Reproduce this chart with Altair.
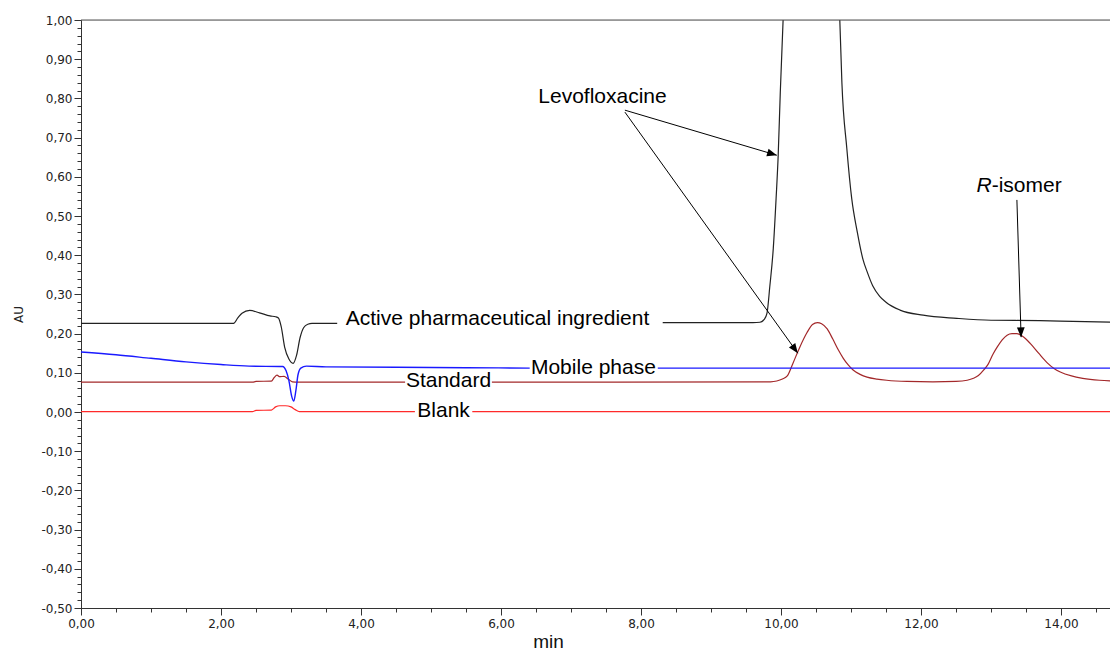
import math
import altair as alt
import pandas as pd

# ---------------- data ----------------
# Active pharmaceutical ingredient (black)
api_t = [0.00, 2.18, 2.24, 2.30, 2.41, 2.55, 2.70, 2.78, 2.82, 2.86, 2.91, 2.97, 3.03, 3.08, 3.13, 3.18, 3.24, 3.30, 3.66,
         8.31, 9.60, 9.70, 9.76, 9.80, 9.84, 9.89, 9.93, 9.96, 9.99, 10.03,
         10.84, 10.87, 10.94, 11.01, 11.09, 11.17, 11.23, 11.31, 11.41, 11.50, 11.70, 12.03, 12.51, 13.00, 13.70, 14.17, 14.81]
api_au = [0.226, 0.226, 0.240, 0.252, 0.259, 0.253, 0.245, 0.243, 0.240, 0.218, 0.165, 0.135, 0.124, 0.145, 0.190, 0.215, 0.224, 0.226, 0.226,
          0.228, 0.228, 0.229, 0.236, 0.252, 0.320, 0.418, 0.545, 0.655, 0.816, 1.000,
          1.000, 0.840, 0.673, 0.545, 0.459, 0.390, 0.358, 0.322, 0.295, 0.280, 0.260, 0.247, 0.239, 0.234, 0.233, 0.231, 0.229]
api_seg = [0] * 19 + [1] * 11 + [2] * 17

# Mobile phase (blue)
mob_t = [0.00, 0.50, 1.00, 1.50, 2.00, 2.40, 2.88, 2.93, 2.97, 3.01, 3.04, 3.07, 3.10, 3.14, 3.22, 3.50, 4.50, 5.50, 6.41,
         8.24, 10.00, 12.00, 14.81]
mob_au = [0.153, 0.146, 0.137, 0.128, 0.121, 0.117, 0.116, 0.105, 0.080, 0.040, 0.028, 0.055, 0.095, 0.112, 0.117, 0.115, 0.114, 0.113, 0.112,
          0.112, 0.112, 0.112, 0.112]
mob_seg = [0] * 19 + [1] * 4

# Standard (dark red)
std_t = [0.00, 2.45, 2.50, 2.72, 2.76, 2.80, 2.84, 2.90, 2.96, 3.02, 3.10, 4.63,
         5.87, 9.85, 9.94, 10.02, 10.09, 10.17, 10.27, 10.37, 10.45, 10.52, 10.58, 10.66, 10.74, 10.82, 10.89, 10.96,
         11.03, 11.13, 11.23, 11.37, 11.51, 11.80, 12.17, 12.50, 12.66, 12.75, 12.82, 12.90, 12.96, 13.03, 13.09, 13.16,
         13.23, 13.30, 13.37, 13.45, 13.56, 13.68, 13.80, 13.90, 13.99, 14.15, 14.31, 14.55, 14.81]
std_au = [0.076, 0.076, 0.078, 0.079, 0.088, 0.094, 0.090, 0.091, 0.084, 0.077, 0.076, 0.076,
          0.076, 0.077, 0.079, 0.084, 0.092, 0.124, 0.166, 0.202, 0.223, 0.228, 0.225, 0.212, 0.186, 0.158, 0.137, 0.120,
          0.107, 0.096, 0.089, 0.084, 0.081, 0.078, 0.077, 0.078, 0.081, 0.086, 0.093, 0.108, 0.122, 0.148, 0.166, 0.184,
          0.196, 0.200, 0.200, 0.193, 0.175, 0.150, 0.126, 0.111, 0.102, 0.092, 0.086, 0.081, 0.079]
std_seg = [0] * 12 + [1] * 45

# Blank (bright red)
blk_t = [0.00, 2.45, 2.50, 2.72, 2.78, 2.84, 2.92, 3.00, 3.06, 3.12, 4.77, 5.59, 14.81]
blk_au = [0.001, 0.001, 0.004, 0.005, 0.013, 0.016, 0.016, 0.013, 0.006, 0.001, 0.001, 0.001, 0.001]
blk_seg = [0] * 11 + [1] * 2

# Annotation labels
lab_text = ["Active pharmaceutical ingredient", "Levofloxacine", "Mobile phase", "Standard", "Blank"]
lab_t = [5.95, 7.45, 7.32, 5.25, 5.18]
lab_au = [0.221, 0.788, 0.098, 0.064, -0.0125]
iso_t = 13.01
iso_au = 0.561

# Arrows (start -> tip)
arr_t = [7.77, 7.77, 13.37]
arr_au = [0.770, 0.765, 0.541]
arr_t2 = [9.94, 10.24, 13.43]
arr_au2 = [0.655, 0.150, 0.191]

x_major = [0, 2, 4, 6, 8, 10, 12, 14]
x_minor = [round(0.5 * k, 2) for k in range(0, 30)]
y_major = [round(-0.5 + 0.1 * k, 2) for k in range(0, 16)]
y_minor = [round(-0.5 + 0.02 * k, 2) for k in range(0, 76)]

# ---------------- layout ----------------
W, H = 1029, 588
X_MAX = W / 70.0
Y_MIN, Y_MAX = -0.5, 1.0

LBL_FONT = "DejaVu Sans"
ANN_FONT = "Liberation Sans"
AX_COL = "#333333"


def trace(t, v, s):
    return pd.DataFrame({"t": t, "au": v, "seg": s})


api = trace(api_t, api_au, api_seg)
mob = trace(mob_t, mob_au, mob_seg)
std = trace(std_t, std_au, std_seg)
blk = trace(blk_t, blk_au, blk_seg)

xs = alt.Scale(domain=[0, X_MAX], nice=False, zero=False)
ys = alt.Scale(domain=[Y_MIN, Y_MAX], nice=False, zero=False)

lbl_expr = "(datum.value < 0 ? '-' : '') + replace(format(abs(datum.value), '.2f'), '.', ',')"

x_axis_major = alt.Axis(values=x_major, labelExpr=lbl_expr, tickSize=7, tickColor=AX_COL, domainColor=AX_COL,
                        labelFont=LBL_FONT, labelFontSize=12, labelColor="#222222", labelPadding=3,
                        grid=False, orient="bottom", title="min", titleFont=ANN_FONT, titleFontSize=19,
                        titleFontWeight="normal", titleColor="#111111", titleX=467, titleY=39,
                        titleAlign="center", titleBaseline="alphabetic", labelFlush=False, labelOverlap=False)
y_axis_major = alt.Axis(values=y_major, labelExpr=lbl_expr, tickSize=7, tickColor=AX_COL, domainColor=AX_COL,
                        labelFont=LBL_FONT, labelFontSize=12, labelColor="#222222", labelPadding=2,
                        grid=False, orient="left", title="AU", titleFont=LBL_FONT, titleFontSize=12,
                        titleFontWeight="normal", titleColor="#222222", titleX=-63, titleY=H / 2,
                        titleAngle=270, titleAlign="center", titleBaseline="middle",
                        labelFlush=False, labelOverlap=False)
x_axis_minor = alt.Axis(values=x_minor, labels=False, domain=False, tickSize=4, tickColor=AX_COL,
                        grid=False, orient="bottom", title=None)
y_axis_minor = alt.Axis(values=y_minor, labels=False, domain=False, tickSize=4, tickColor=AX_COL,
                        grid=False, orient="left", title=None)


def line_layer(df, color, width, xaxis=None, yaxis=None):
    return alt.Chart(df).mark_line(color=color, strokeWidth=width, interpolate="monotone", clip=True).encode(
        x=alt.X("t:Q", scale=xs, axis=xaxis),
        y=alt.Y("au:Q", scale=ys, axis=yaxis),
        detail="seg:N",
    )


blk_line = line_layer(blk, "#ff2a2a", 1.2, x_axis_major, y_axis_major)
minor = alt.Chart(blk).mark_point(opacity=0, clip=True).encode(
    x=alt.X("t:Q", scale=xs, axis=x_axis_minor),
    y=alt.Y("au:Q", scale=ys, axis=y_axis_minor),
)
std_line = line_layer(std, "#a3282a", 1.2)
mob_line = line_layer(mob, "#1a1aff", 1.4)
api_line = line_layer(api, "#222222", 1.2)

top_rule = alt.Chart(pd.DataFrame({"y": [Y_MAX]})).mark_rule(color="#555555", strokeWidth=1.2).encode(
    y=alt.Y("y:Q", scale=ys, axis=None)
)

labels = alt.Chart(pd.DataFrame({"text": lab_text, "t": lab_t, "au": lab_au})).mark_text(
    font=ANN_FONT, fontSize=21, color="#000000", align="center", baseline="alphabetic"
).encode(
    x=alt.X("t:Q", scale=xs, axis=None),
    y=alt.Y("au:Q", scale=ys, axis=None),
    text="text:N",
)

iso_df = pd.DataFrame({"t": [iso_t], "au": [iso_au]})
iso_r = alt.Chart(iso_df).mark_text(font=ANN_FONT, fontSize=21, fontStyle="italic", color="#000000",
                                    align="right", baseline="alphabetic", text="R").encode(
    x=alt.X("t:Q", scale=xs, axis=None), y=alt.Y("au:Q", scale=ys, axis=None))
iso_rest = alt.Chart(iso_df).mark_text(font=ANN_FONT, fontSize=21, color="#000000",
                                       align="left", baseline="alphabetic", text="-isomer").encode(
    x=alt.X("t:Q", scale=xs, axis=None), y=alt.Y("au:Q", scale=ys, axis=None))

arr = pd.DataFrame({"t": arr_t, "au": arr_au, "t2": arr_t2, "au2": arr_au2})
px_x = W / X_MAX
px_y = H / (Y_MAX - Y_MIN)
arr["angle"] = [
    (math.degrees(math.atan2((b - a) * px_x, (d - c) * px_y)) + 360) % 360
    for a, b, c, d in zip(arr_t, arr_t2, arr_au, arr_au2)
]

arrow_lines = alt.Chart(arr).mark_rule(color="#000000", strokeWidth=1).encode(
    x=alt.X("t:Q", scale=xs, axis=None),
    y=alt.Y("au:Q", scale=ys, axis=None),
    x2="t2:Q",
    y2="au2:Q",
)
arrow_heads = alt.Chart(arr).mark_point(shape="M0,0L-0.4,1L0.4,1Z", filled=True, color="#000000",
                                        opacity=1, size=380, strokeWidth=0).encode(
    x=alt.X("t2:Q", scale=xs, axis=None),
    y=alt.Y("au2:Q", scale=ys, axis=None),
    angle=alt.Angle("angle:Q", scale=None),
)

chart = alt.layer(
    blk_line, minor, std_line, mob_line, api_line, top_rule,
    arrow_lines, arrow_heads, labels, iso_r, iso_rest,
).resolve_axis(x="independent", y="independent").properties(
    width=W, height=H,
    autosize=alt.AutoSizeParams(type="none"),
    padding={"left": 73, "top": 12, "right": 0, "bottom": 46},
).configure_view(stroke=None).configure(background="white")

chart.save("out.html", embed_options={"renderer": "svg", "actions": False})
